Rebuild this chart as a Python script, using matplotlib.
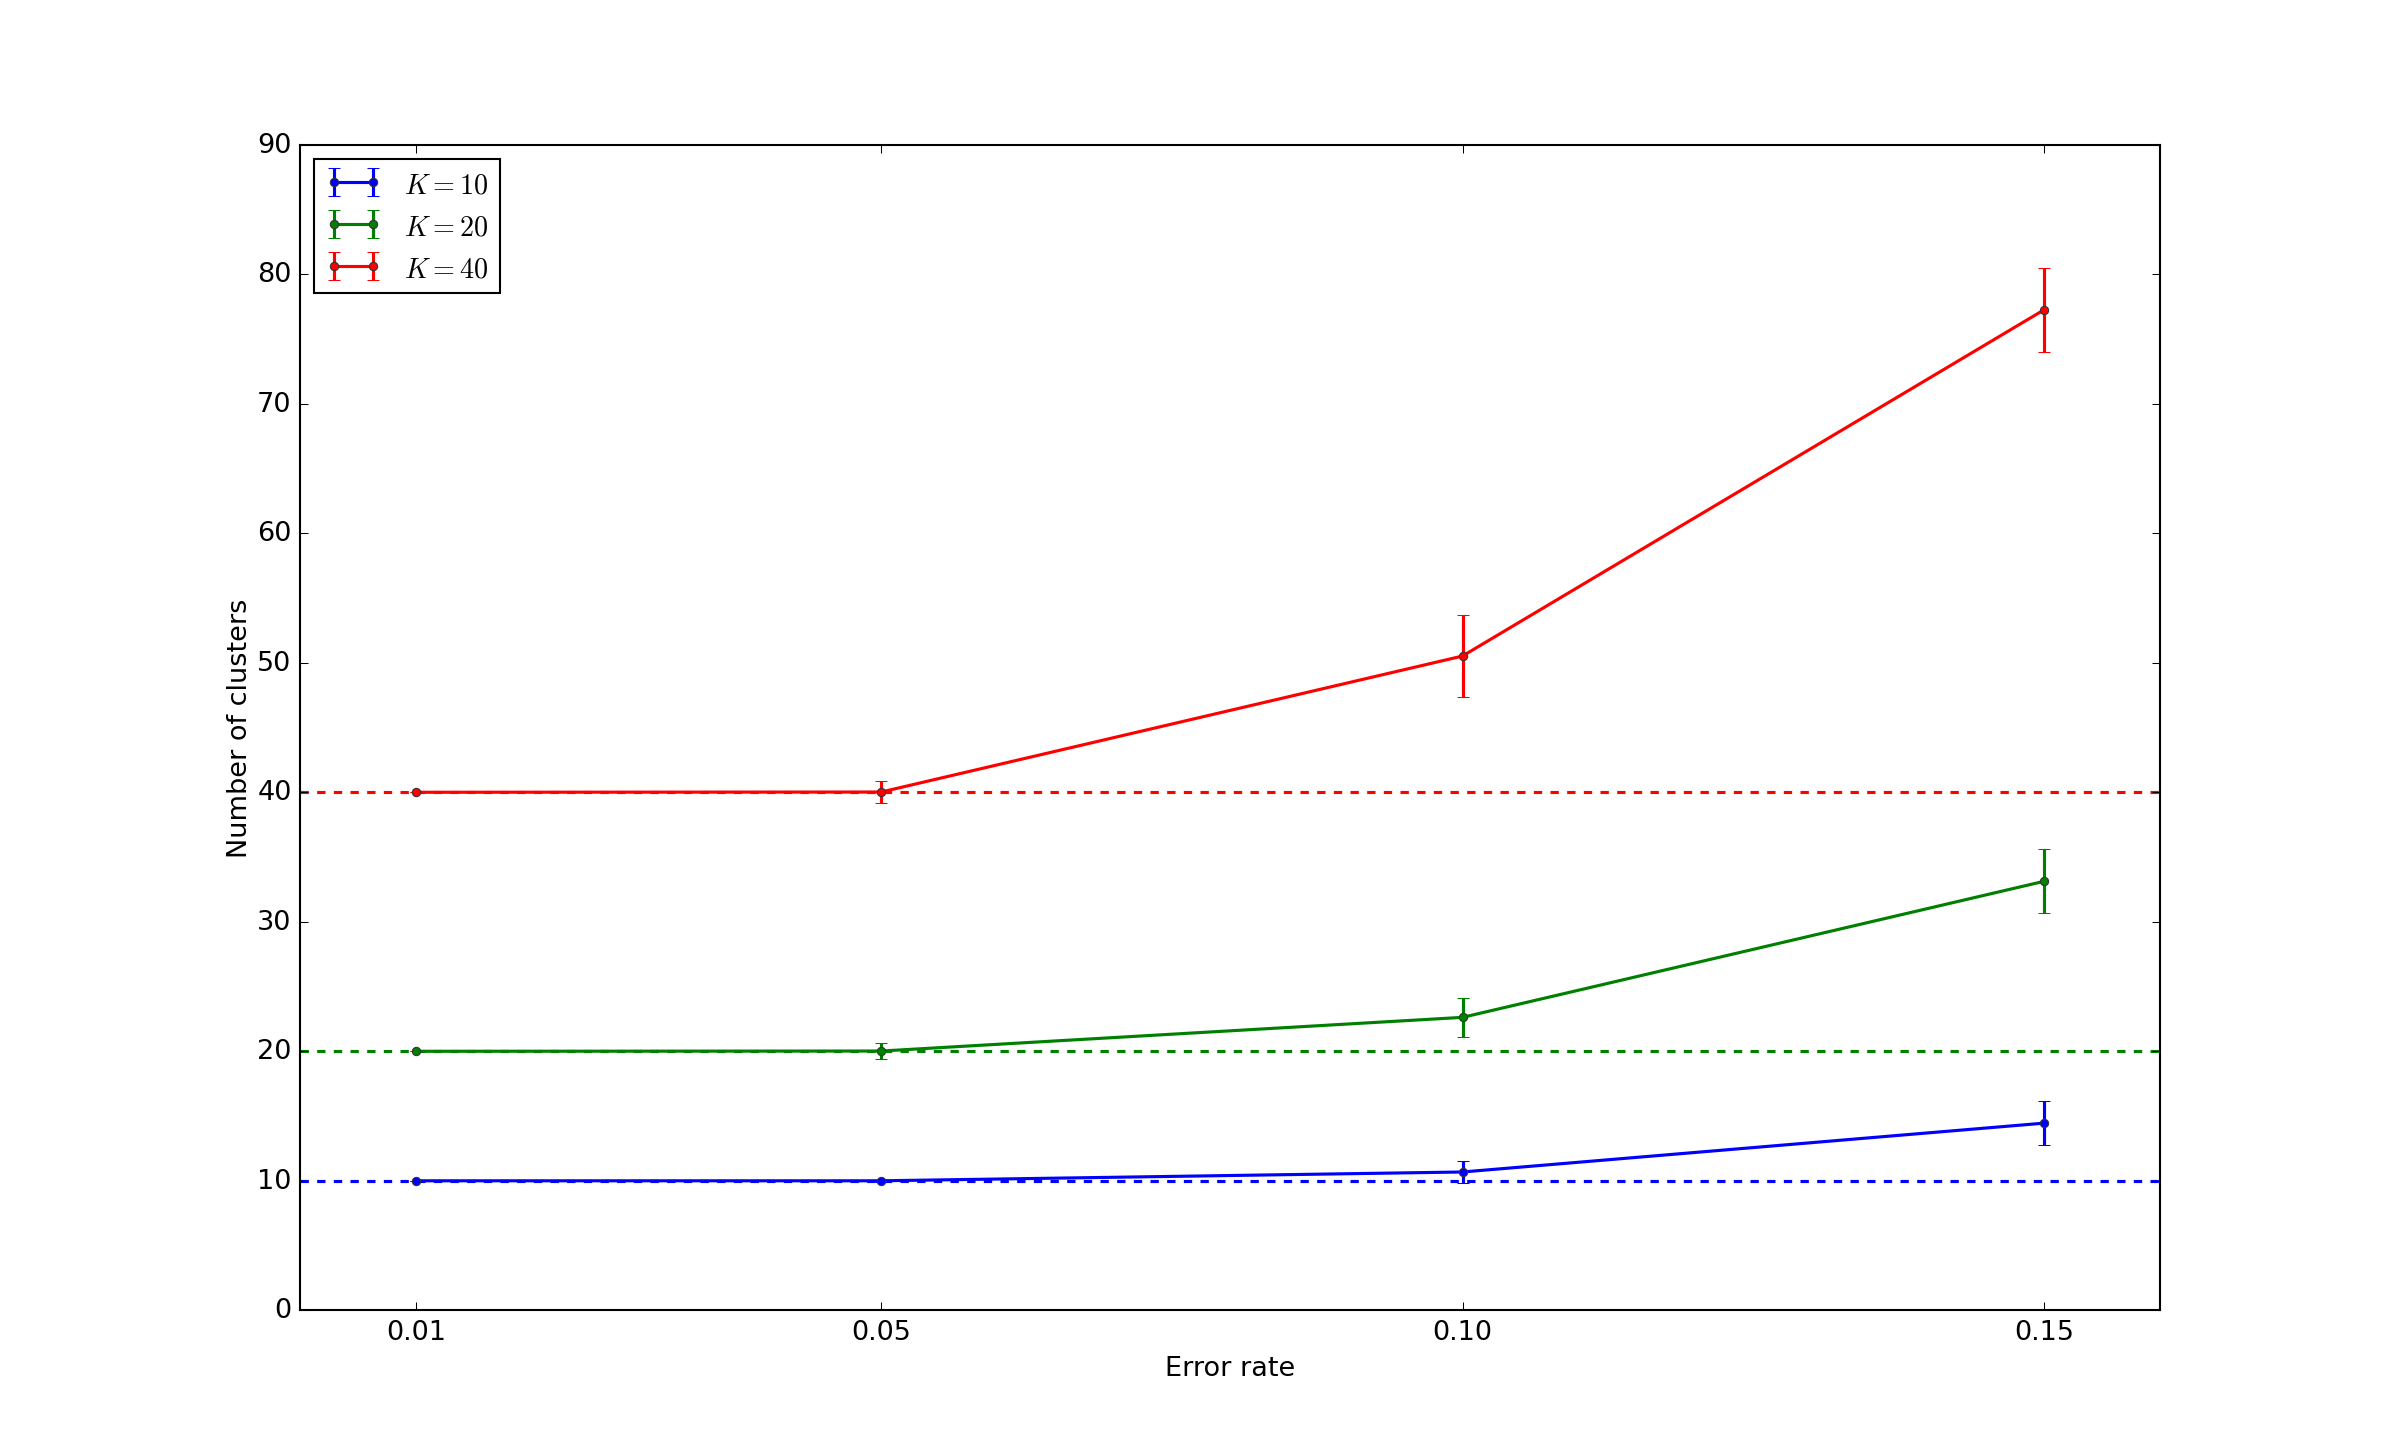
import matplotlib
matplotlib.use("Agg")
import matplotlib.pyplot as plt

# Data
error_rates = [0.01, 0.05, 0.10, 0.15]
tick_labels = ["0.01", "0.05", "0.10", "0.15"]

k10_mean = [10.0, 10.0, 10.68, 14.45]
k10_err = [0.0, 0.1, 0.84, 1.7]
k20_mean = [20.0, 20.02, 22.62, 33.12]
k20_err = [0.0, 0.62, 1.49, 2.47]
k40_mean = [40.0, 40.02, 50.52, 77.24]
k40_err = [0.0, 0.82, 3.2, 3.24]

true_k = [10, 20, 40]
colors = ["b", "g", "r"]

plt.style.use("classic")
plt.rcParams["mathtext.fontset"] = "cm"

fig = plt.figure(figsize=(16, 9.713))
ax = fig.add_subplot(111)

series = [(k10_mean, k10_err), (k20_mean, k20_err), (k40_mean, k40_err)]
for (mean, err), k, c in zip(series, true_k, colors):
    ax.errorbar(error_rates, mean, yerr=err, color=c, marker="o", markersize=4,
                linewidth=1.5, elinewidth=1.5, capsize=3, mew=0.5, mec="0.2",
                label=r"$K=%d$" % k)
    ax.axhline(k, color=c, linestyle="--", dashes=(4, 4), linewidth=1.5)

ax.set_xlim(0, 0.16)
ax.set_ylim(0, 90)
ax.set_xticks(error_rates)
ax.set_xticklabels(tick_labels)
ax.tick_params(labelsize=13)
ax.set_xlabel("Error rate", fontsize=13)
ax.set_ylabel("Number of clusters", fontsize=13, labelpad=2)
ax.legend(loc="upper left", fontsize=13.5, numpoints=2)

fig.savefig("out.png", dpi=150)
